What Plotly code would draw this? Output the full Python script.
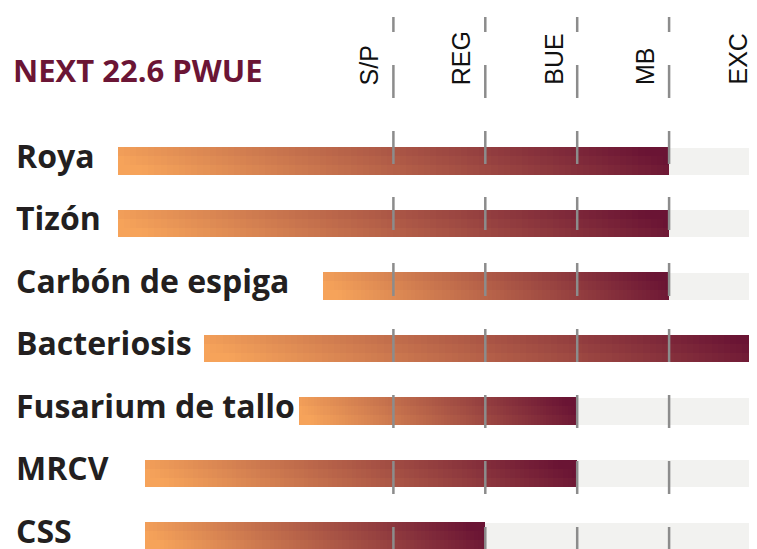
import plotly.graph_objects as go
import numpy as np

# ---- data ----
title = "NEXT 22.6 PWUE"
levels = ["S/P", "REG", "BUE", "MB", "EXC"]          # level k -> value k+1
categories = ["Roya", "Tizón", "Carbón de espiga", "Bacteriosis",
              "Fusarium de tallo", "MRCV", "CSS"]
rating = ["MB", "MB", "MB", "EXC", "BUE", "BUE", "REG"]
bar_start = [-2.0, -2.0, 0.23, -1.06, -0.03, -1.70, -1.70]

# ---- style ----
C0 = np.array([246, 163, 90])
C1 = np.array([106, 20, 52])
GRAY_BG = "#F2F2F0"
LINE = "#8C8C8C"
TXT = "#231F20"
TITLE_C = "#6B1535"
OFF = 8                          # page body margin
W, H = 757 - OFF, 549 - OFF
PX0, PXU = 301.5 - OFF, 91.9     # fig pixel = PX0 + PXU * value
ROW0, ROWH = 161.0 - OFF, 62.5   # fig pixel = ROW0 + ROWH * index


def ypx(p):  # reference-pixel y -> data y
    return (p - OFF - ROW0) / ROWH


xr = [(0 - PX0) / PXU, (W - PX0) / PXU]
yr = [(H - ROW0) / ROWH, (0 - ROW0) / ROWH]

end_val = [levels.index(r) + 1 for r in rating]
nlev = len(levels)
yidx = list(range(len(categories)))
bh = 27 / ROWH

fig = go.Figure()
fig.add_trace(go.Bar(
    y=yidx, x=[nlev + 0.2 - s for s in bar_start], base=bar_start,
    orientation="h", width=bh, marker=dict(color=GRAY_BG, line=dict(width=0)),
    hoverinfo="skip", showlegend=False))

# gradient bars as thin segments (3 strips with small phase shift -> slight diagonal)
N = 90
strips = [(-bh / 3, 0.035), (0.0, 0.0), (bh / 3, -0.035)]  # (y offset, colour shift)
for dy, shift in strips:
    ys, xs, bs, cs = [], [], [], []
    for i, (s, e) in enumerate(zip(bar_start, end_val)):
        w = (e - s) / N
        for k in range(N):
            t = min(max(k / (N - 1) + shift, 0.0), 1.0)
            c = (C0 + (C1 - C0) * t).round().astype(int)
            ys.append(i + dy)
            xs.append(w * 1.04 if k < N - 1 else w)
            bs.append(s + k * w)
            cs.append(f"rgb({c[0]},{c[1]},{c[2]})")
    fig.add_trace(go.Bar(
        y=ys, x=xs, base=bs, orientation="h", width=bh / 3 * 1.05,
        marker=dict(color=cs, line=dict(width=0)),
        hoverinfo="skip", showlegend=False))

ybot = ypx(560)
ytop = ypx(17)
for k in range(1, nlev + 1):
    fig.add_shape(type="line", x0=k, x1=k, y0=ybot, y1=ytop,
                  xref="x", yref="y", layer="above",
                  line=dict(color=LINE, width=2.5, dash="33px,33px"))

for k, lab in enumerate(levels, start=1):
    fig.add_annotation(x=k - 24 / PXU, y=ypx(87), xref="x", yref="y",
                       text=lab, textangle=-90, showarrow=False,
                       xanchor="center", yanchor="bottom",
                       font=dict(family="Liberation Sans, Arial", size=25, color="#111111"))

for i, cat in enumerate(categories):
    fig.add_annotation(x=(14 - OFF) / W, y=i - 6 / ROWH, xref="paper", yref="y",
                       text=f"<b>{cat}</b>", showarrow=False,
                       xanchor="left", yanchor="middle",
                       font=dict(family="Open Sans", size=32, color=TXT))

fig.add_annotation(x=(11 - OFF) / W, y=ypx(70), xref="paper", yref="y",
                   text=f"<b>{title}</b>", showarrow=False,
                   xanchor="left", yanchor="middle",
                   font=dict(family="Open Sans", size=31, color=TITLE_C))

fig.update_layout(
    width=W, height=H, margin=dict(l=0, r=0, t=0, b=0),
    paper_bgcolor="white", plot_bgcolor="white",
    barmode="overlay", bargap=0,
    xaxis=dict(range=xr, visible=False, fixedrange=True),
    yaxis=dict(range=yr, visible=False, fixedrange=True),
)
fig.write_html("out.html")
